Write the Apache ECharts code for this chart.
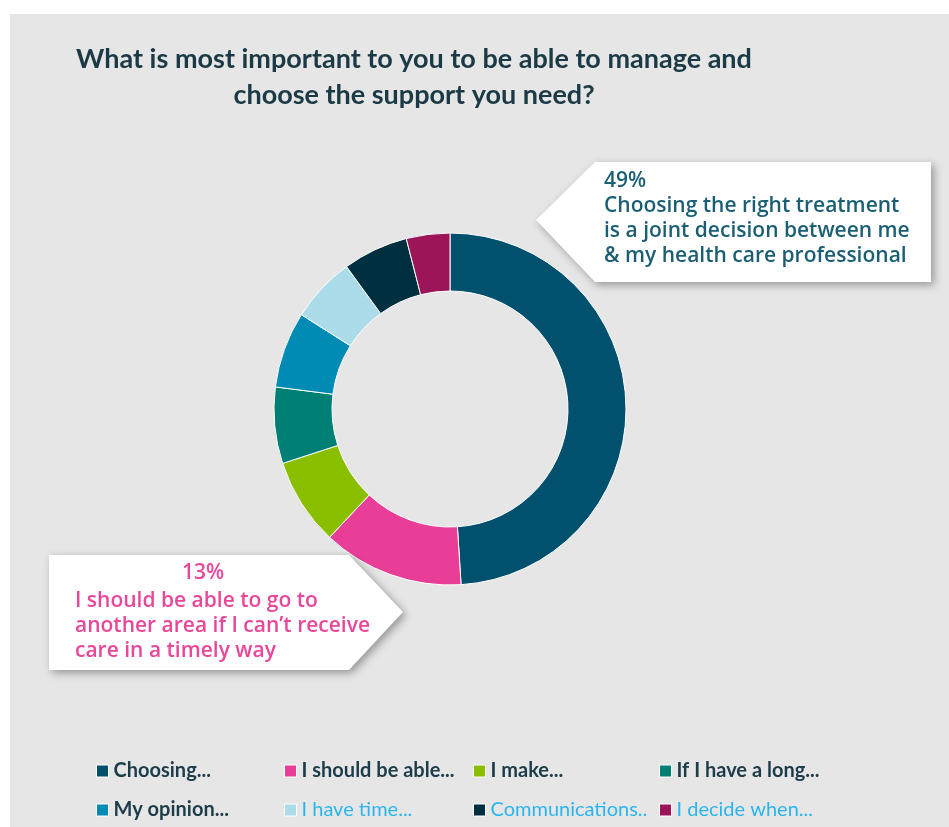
<!DOCTYPE html>
<html>
<head>
<meta charset="utf-8">
<script src="https://cdn.jsdelivr.net/npm/echarts@6/dist/echarts.min.js"></script>
<style>
  html, body { margin: 0; padding: 0; background: #ffffff; }
  #chart { position: absolute; left: 10px; top: 14px; width: 939px; height: 813px; background: #e6e6e6; }
</style>
</head>
<body>
<div id="chart"></div>
<script>
// Survey answers (percent of respondents)
const categories = [
  'Choosing...',
  'I should be able...',
  'I make...',
  'If I have a long...',
  'My opinion...',
  'I have time...',
  'Communications..',
  'I decide when...'
];
const values = [49, 13, 8, 7, 7, 6, 6, 4];
const colors = ['#00506e', '#e83e97', '#8abf00', '#008075', '#008bb5', '#acdbea', '#002f40', '#9c1558'];

// Full wording of the two highlighted answers
const calloutTopText = ['Choosing the right treatment', 'is a joint decision between me', '& my health care professional'];
const calloutLeftText = ['I should be able to go to', "another area if I can\u2019t receive", 'care in a timely way'];

// Legend text colours / weights per item
const legendTextColors = ['#1d3c4a', '#1d3c4a', '#1d3c4a', '#1d3c4a', '#1d3c4a', '#2bb5ee', '#2bb5ee', '#2bb5ee'];
const legendTextWeights = ['bold', 'bold', 'bold', 'bold', 'bold', 'normal', 'normal', 'normal'];
const legendPos = [
  [86, 747], [274, 747], [463, 747], [649, 747],
  [86, 786], [274, 786], [463, 786], [649, 786]
];

const chart = echarts.init(document.getElementById('chart'), null, { renderer: 'canvas' });

const pieData = categories.map((name, i) => ({ name, value: values[i], itemStyle: { color: colors[i] } }));

const legends = categories.map((name, i) => ({
  left: legendPos[i][0],
  top: legendPos[i][1],
  padding: 0,
  orient: 'horizontal',
  icon: 'rect',
  itemWidth: 12,
  itemHeight: 12,
  itemGap: 6,
  selectedMode: false,
  itemStyle: { borderColor: '#ffffff', borderWidth: 1 },
  textStyle: {
    fontFamily: 'Lato',
    fontSize: 20,
    fontWeight: legendTextWeights[i],
    color: legendTextColors[i]
  },
  data: [name]
}));

const fontCallout = 'Open Sans';
const shadow = { shadowBlur: 8, shadowColor: 'rgba(0,0,0,0.35)', shadowOffsetX: 3, shadowOffsetY: 3 };

chart.setOption({
  backgroundColor: '#e6e6e6',
  animation: false,
  title: {
    text: 'What is most important to you to be able to manage and\nchoose the support you need?',
    left: 399,
    top: 22,
    textAlign: 'center',
    textStyle: {
      fontFamily: 'Lato',
      fontSize: 27,
      fontWeight: 'bold',
      color: '#1b3a46',
      lineHeight: 36,
      align: 'center'
    }
  },
  legend: legends,
  series: [{
    type: 'pie',
    center: [440, 395],
    radius: [118, 176],
    startAngle: 90,
    clockwise: true,
    avoidLabelOverlap: false,
    label: { show: false },
    labelLine: { show: false },
    silent: true,
    itemStyle: { borderColor: '#ffffff', borderWidth: 1 },
    data: pieData
  }],
  graphic: [
    {
      type: 'polygon',
      shape: { points: [[585, 148], [921, 148], [921, 268], [585, 268], [526, 206]] },
      style: Object.assign({ fill: '#ffffff' }, shadow),
      z: 10
    },
    {
      type: 'text',
      left: 594,
      top: 155,
      z: 11,
      style: {
        text: values[0] + '%\n' + calloutTopText.join('\n'),
        fontFamily: fontCallout,
        fontSize: 21,
        fontWeight: 600,
        lineHeight: 25,
        fill: '#1c5f75'
      }
    },
    {
      type: 'polygon',
      shape: { points: [[39, 541], [339, 541], [393, 598], [339, 656], [39, 656]] },
      style: Object.assign({ fill: '#ffffff' }, shadow),
      z: 10
    },
    {
      type: 'text',
      x: 193,
      y: 559,
      z: 11,
      style: {
        text: values[1] + '%',
        align: 'center',
        verticalAlign: 'middle',
        fontFamily: fontCallout,
        fontSize: 21,
        fontWeight: 600,
        fill: '#e8479a'
      }
    },
    {
      type: 'text',
      left: 65,
      top: 575,
      z: 11,
      style: {
        text: calloutLeftText.join('\n'),
        fontFamily: fontCallout,
        fontSize: 21,
        fontWeight: 600,
        lineHeight: 25,
        fill: '#e8479a'
      }
    }
  ]
});
</script>
</body>
</html>
